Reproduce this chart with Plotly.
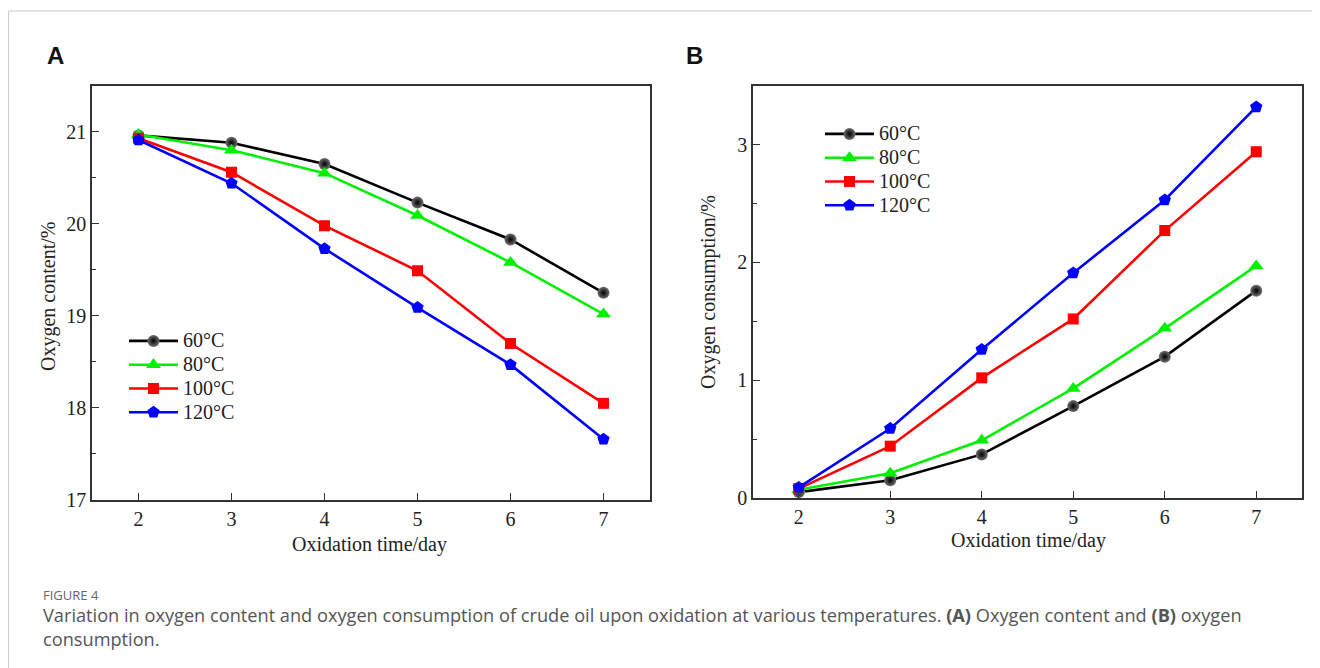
import plotly.graph_objects as go

days = [2, 3, 4, 5, 6, 7]
temps = ["60°C", "80°C", "100°C", "120°C"]
content_60 = [20.96, 20.88, 20.65, 20.23, 19.83, 19.25]
content_80 = [20.97, 20.80, 20.55, 20.09, 19.58, 19.02]
content_100 = [20.93, 20.56, 19.98, 19.49, 18.70, 18.05]
content_120 = [20.91, 20.44, 19.73, 19.09, 18.47, 17.66]
consump_60 = [0.05, 0.15, 0.37, 0.78, 1.20, 1.76]
consump_80 = [0.07, 0.21, 0.49, 0.93, 1.44, 1.97]
consump_100 = [0.08, 0.44, 1.02, 1.52, 2.27, 2.94]
consump_120 = [0.09, 0.59, 1.26, 1.91, 2.53, 3.32]

colors = ["#000000", "#00f000", "#ff0000", "#0000ff"]
symbols = ["circle", "triangle-up", "square", "pentagon"]
msizes = [12, 13, 11, 13]

W, H = 1320, 668
OFF = 8  # page body margin
def px(x): return (x - OFF) / W
def py(y): return 1 - (y - OFF) / H

fig = go.Figure()
contents = [content_60, content_80, content_100, content_120]
consumps = [consump_60, consump_80, consump_100, consump_120]
for i, t in enumerate(temps):
    marker = dict(symbol=symbols[i], size=msizes[i], color=colors[i], line=dict(width=0))
    if i == 0:
        marker = dict(symbol="circle", size=msizes[i], color="#707070",
                      gradient=dict(type="radial", color="#000000"), line=dict(width=0))
    label = '<span style="font-size:20px">' + t + '</span>'
    fig.add_trace(go.Scatter(x=days, y=contents[i], mode="lines+markers", name=label,
                             line=dict(color=colors[i], width=2.6), marker=marker,
                             xaxis="x", yaxis="y", legend="legend", legendgroup="a" + t))
    fig.add_trace(go.Scatter(x=days, y=consumps[i], mode="lines+markers", name=label,
                             line=dict(color=colors[i], width=2.6), marker=marker,
                             xaxis="x2", yaxis="y2", legend="legend2", legendgroup="b" + t))

tickfont = dict(family="Liberation Serif", size=20, color="#222")
axis_common = dict(showline=True, linecolor="#333", linewidth=1.5, mirror=True,
                   ticks="inside", ticklen=7, tickwidth=1.3, tickcolor="#333",
                   showgrid=False, zeroline=False, tickfont=tickfont, automargin=False)
legfont = dict(family="Liberation Serif", size=16, color="#222")
fig.update_layout(
    width=W, height=H, margin=dict(l=0, r=0, t=0, b=0),
    plot_bgcolor="white", paper_bgcolor="white",
    xaxis=dict(domain=[px(92), px(650)], range=[1.5, 7.5], dtick=1, anchor="y", **axis_common),
    yaxis=dict(domain=[py(500), py(85.7)], range=[17, 21.5], dtick=1, anchor="x",
               minor=dict(dtick=0.5, ticks="inside", ticklen=4, tickcolor="#333"), **axis_common),
    xaxis2=dict(domain=[px(753), px(1302)], range=[1.5, 7.5], dtick=1, anchor="y2", **axis_common),
    yaxis2=dict(domain=[py(498), py(85.7)], range=[0, 3.5], dtick=1, anchor="x2",
                minor=dict(dtick=0.5, ticks="inside", ticklen=4, tickcolor="#333"), **axis_common),
    legend=dict(x=px(124), y=py(324), xanchor="left", yanchor="top", bgcolor="rgba(0,0,0,0)",
                font=legfont, traceorder="grouped", tracegroupgap=0, itemwidth=49),
    legend2=dict(x=px(820), y=py(117), xanchor="left", yanchor="top", bgcolor="rgba(0,0,0,0)",
                 font=legfont, traceorder="grouped", tracegroupgap=0, itemwidth=49),
    showlegend=True,
)

ann_font = dict(family="Liberation Serif", size=20, color="#222")
annotations = [
    dict(text="Oxidation time/day", x=px(369), y=py(544), font=ann_font),
    dict(text="Oxidation time/day", x=px(1028), y=py(540), font=ann_font),
    dict(text="Oxygen content/%", x=px(48), y=py(297), textangle=-90, font=ann_font),
    dict(text="Oxygen consumption/%", x=px(708), y=py(292), textangle=-90, font=ann_font),
    dict(text="<b>A</b>", x=px(45), y=py(55), xanchor="left",
         font=dict(family="Liberation Sans", size=24, color="#111")),
    dict(text="<b>B</b>", x=px(684), y=py(55), xanchor="left",
         font=dict(family="Liberation Sans", size=24, color="#111")),
    dict(text="FIGURE 4", x=px(41), y=py(595), xanchor="left",
         font=dict(family="Open Sans", size=13, color="#666")),
    dict(text="Variation in oxygen content and oxygen consumption of crude oil upon oxidation at various temperatures. "
              "<b>(A)</b> Oxygen content and <b>(B)</b> oxygen", x=px(41), y=py(615), xanchor="left",
         font=dict(family="Open Sans", size=18.2, color="#555")),
    dict(text="consumption.", x=px(41), y=py(639), xanchor="left",
         font=dict(family="Open Sans", size=18.2, color="#555")),
]
for a in annotations:
    a.update(xref="paper", yref="paper", showarrow=False)
    a.setdefault("xanchor", "center")
    a.setdefault("yanchor", "middle")
fig.update_layout(annotations=annotations)

fig.add_shape(type="rect", xref="paper", yref="paper", x0=px(8.5), x1=px(1340), y0=py(11), y1=py(700),
              line=dict(color="#cccccc", width=1), fillcolor="rgba(0,0,0,0)", layer="below")

fig.write_html("out.html")
